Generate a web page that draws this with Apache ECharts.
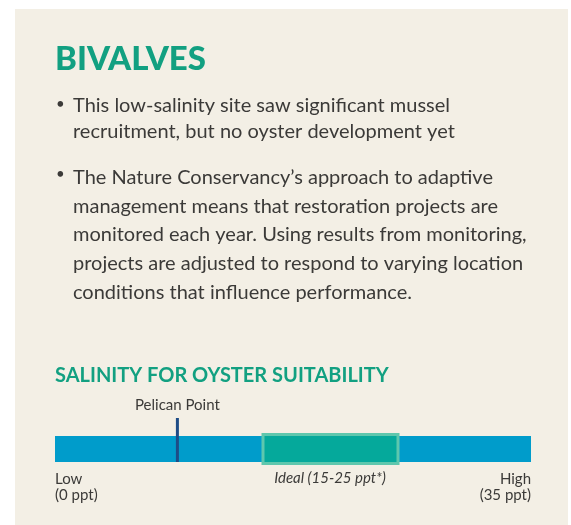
<!DOCTYPE html>
<html>
<head>
<meta charset="utf-8">
<script src="https://cdn.jsdelivr.net/npm/echarts@6/dist/echarts.min.js"></script>
<style>
html,body{margin:0;padding:0;background:#ffffff;}
#chart{width:571px;height:525px;}
</style>
</head>
<body>
<div id="chart"></div>
<script>
// ---- data ----
var scaleMin = 0;
var scaleMax = 35;
var idealRange = [15, 25];
var siteName = ['Pelican Point'];
var siteValue = [9];
var endLabels = ['Low\n(0 ppt)', 'High\n(35 ppt)'];
var idealLabel = 'Ideal (15-25 ppt*)';
var title = 'BIVALVES';
var subtitle = 'SALINITY FOR OYSTER SUITABILITY';
var bullets = [
  'This low-salinity site saw significant mussel\nrecruitment, but no oyster development yet',
  'The Nature Conservancy\u2019s approach to adaptive\nmanagement means that restoration projects are\nmonitored each year. Using results from monitoring,\nprojects are adjusted to respond to varying location\nconditions that influence performance.'
];

var FONT = 'Lato, "Open Sans", sans-serif';
var TEXT = '#3b3a38';
var GREEN = '#12a081';
var chart = echarts.init(document.getElementById('chart'), null, {renderer: 'canvas'});

var option = {
  animation: false,
  backgroundColor: '#ffffff',
  grid: {left: 55, right: 40, top: 436, height: 26, containLabel: false},
  xAxis: {type: 'value', min: scaleMin, max: scaleMax, show: false},
  yAxis: {type: 'category', data: ['salinity'], show: false},
  graphic: [
    {type: 'rect', z: -10, shape: {x: 15, y: 9, width: 553, height: 516}, style: {fill: '#f3efe5'}},
    {type: 'text', left: 55, top: 43, style: {text: title, font: '900 33px ' + FONT, fill: GREEN}},
    {type: 'text', left: 56, top: 97, style: {text: '\u2022', font: '15px ' + FONT, fill: TEXT}},
    {type: 'text', left: 73, top: 93, style: {text: bullets[0], font: '20px ' + FONT, fill: TEXT, lineHeight: 26}},
    {type: 'text', left: 56, top: 167, style: {text: '\u2022', font: '15px ' + FONT, fill: TEXT}},
    {type: 'text', left: 73, top: 163, style: {text: bullets[1], font: '20px ' + FONT, fill: TEXT, lineHeight: 28.8}},
    {type: 'text', left: 55, top: 366, style: {text: subtitle, font: 'bold 20px ' + FONT, fill: GREEN}}
  ],
  series: [
    {
      type: 'bar', name: 'Salinity scale', data: [scaleMax], barWidth: 26, z: 1,
      itemStyle: {color: '#009ccb'}, silent: true
    },
    {
      type: 'custom', name: 'Ideal', silent: true, z: 5,
      data: [[idealRange[0], idealRange[1], 0]],
      renderItem: function (params, api) {
        var p0 = api.coord([api.value(0), api.value(2)]);
        var p1 = api.coord([api.value(1), api.value(2)]);
        var h = 29;
        return {
          type: 'group',
          children: [
            {type: 'rect', shape: {x: p0[0] + 4, y: p0[1] - h / 2, width: p1[0] - p0[0] - 1, height: h},
              style: {fill: '#05a99b', stroke: '#5ec7ad', lineWidth: 3}},
            {type: 'text', style: {text: idealLabel, x: (p0[0] + p1[0]) / 2 + 3, y: p0[1] + 22,
              align: 'center', verticalAlign: 'top', font: 'italic 15px ' + FONT, fill: TEXT}}
          ]
        };
      }
    },
    {
      type: 'custom', name: 'Site', silent: true, z: 6,
      data: [[siteValue[0], 0]],
      renderItem: function (params, api) {
        var p = api.coord([api.value(0), api.value(1)]);
        return {
          type: 'group',
          children: [
            {type: 'rect', shape: {x: p[0] - 1.5, y: p[1] - 31, width: 3, height: 44}, style: {fill: '#1e4c86'}},
            {type: 'text', style: {text: siteName[0], x: p[0], y: p[1] - 36, align: 'center', verticalAlign: 'bottom',
              font: '15px ' + FONT, fill: TEXT}}
          ]
        };
      }
    },
    {
      type: 'custom', name: 'Ends', silent: true, z: 6,
      data: [[scaleMin, 0, 0], [scaleMax, 0, 1]],
      renderItem: function (params, api) {
        var p = api.coord([api.value(0), api.value(1)]);
        var idx = api.value(2);
        return {
          type: 'text',
          style: {text: endLabels[idx], x: p[0], y: p[1] + 22, align: idx === 0 ? 'left' : 'right',
            verticalAlign: 'top', font: '15px ' + FONT, fill: TEXT, lineHeight: 16}
        };
      }
    }
  ]
};
chart.setOption(option);
</script>
</body>
</html>
